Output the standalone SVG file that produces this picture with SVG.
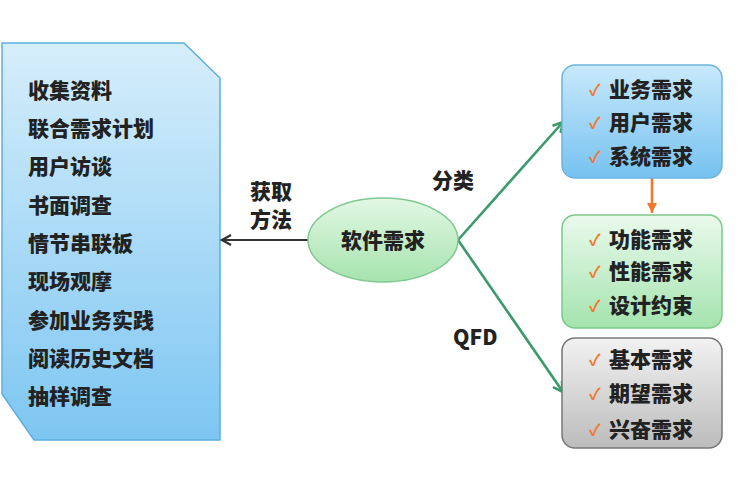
<svg xmlns="http://www.w3.org/2000/svg" width="746" height="484" viewBox="0 0 746 484">
<defs>
<linearGradient id="gBlue" x1="0" y1="0" x2="0" y2="1"><stop offset="0" stop-color="#d6eefb"/><stop offset="1" stop-color="#7dc6f2"/></linearGradient>
<linearGradient id="gBlue2" x1="0" y1="0" x2="0" y2="1"><stop offset="0" stop-color="#c9e9fb"/><stop offset="1" stop-color="#76c2f1"/></linearGradient>
<linearGradient id="gGreen" x1="0" y1="0" x2="0" y2="1"><stop offset="0" stop-color="#eafaec"/><stop offset="1" stop-color="#a4e3ae"/></linearGradient>
<linearGradient id="gEll" x1="0" y1="0" x2="0" y2="1"><stop offset="0" stop-color="#e2f8e4"/><stop offset="1" stop-color="#a6e3ae"/></linearGradient>
<linearGradient id="gGrey" x1="0" y1="0" x2="0" y2="1"><stop offset="0" stop-color="#f2f2f2"/><stop offset="1" stop-color="#bcbcbc"/></linearGradient>
<marker id="mDark" viewBox="0 0 12 12" refX="10" refY="6" markerWidth="12" markerHeight="12" markerUnits="userSpaceOnUse" orient="auto"><path d="M1,1 L10,6 L1,11" fill="none" stroke="#333" stroke-width="2.2"/></marker>
<marker id="mGreen" viewBox="0 0 12 12" refX="10" refY="6" markerWidth="13" markerHeight="13" markerUnits="userSpaceOnUse" orient="auto"><path d="M1,1 L10,6 L1,11" fill="none" stroke="#3a9a6c" stroke-width="2.4"/></marker>
<marker id="mOrange" viewBox="0 0 12 12" refX="10" refY="6" markerWidth="12" markerHeight="12" markerUnits="userSpaceOnUse" orient="auto"><path d="M0,1 L10,6 L0,11 Z" fill="#f07828"/></marker>
</defs>
<style>
text{font-family:"Noto Sans CJK SC","Noto Sans",sans-serif;font-weight:900;fill:#222;}
.t{font-size:21px;}
.ck{font-size:16px;fill:#f07828;font-weight:bold;}
</style>
<rect width="746" height="484" fill="#ffffff"/>
<g id="panel">
<path d="M2,43 L184,43 L220,78 L220,440 L34,440 L2,394 Z" fill="url(#gBlue)" stroke="#5eaedb" stroke-width="1.5"/>
<text class="t" x="28" y="98">收集资料</text>
<text class="t" x="28" y="136">联合需求计划</text>
<text class="t" x="28" y="174">用户访谈</text>
<text class="t" x="28" y="213">书面调查</text>
<text class="t" x="28" y="251">情节串联板</text>
<text class="t" x="28" y="289">现场观摩</text>
<text class="t" x="28" y="328">参加业务实践</text>
<text class="t" x="28" y="366">阅读历史文档</text>
<text class="t" x="28" y="404">抽样调查</text>
</g>
<g id="connectors">
<line x1="308" y1="240" x2="222" y2="240" stroke="#333" stroke-width="2.2" marker-end="url(#mDark)"/>
<line x1="458" y1="240" x2="563" y2="122" stroke="#3a9a6c" stroke-width="2.6" marker-end="url(#mGreen)"/>
<line x1="458" y1="240" x2="563" y2="392" stroke="#3a9a6c" stroke-width="2.6" marker-end="url(#mGreen)"/>
<line x1="652" y1="178" x2="652" y2="213" stroke="#f07828" stroke-width="2.6" marker-end="url(#mOrange)"/>
<text class="t" x="250" y="199">获取</text>
<text class="t" x="250" y="227">方法</text>
<text class="t" x="432" y="188">分类</text>
<text class="t" x="453" y="345">QFD</text>
</g>
<g id="core">
<ellipse cx="383" cy="240" rx="75" ry="42" fill="url(#gEll)" stroke="#82c890" stroke-width="1.5"/>
<text class="t" x="383" y="248" text-anchor="middle">软件需求</text>
</g>
<g id="box1">
<rect x="562" y="65" width="160" height="113" rx="13" fill="url(#gBlue2)" stroke="#6db5de" stroke-width="1.5"/>
<text class="ck" x="589" y="96">✓</text><text class="t" x="609" y="97">业务需求</text>
<text class="ck" x="589" y="129">✓</text><text class="t" x="609" y="130">用户需求</text>
<text class="ck" x="589" y="163">✓</text><text class="t" x="609" y="164">系统需求</text>
</g>
<g id="box2">
<rect x="562" y="215" width="160" height="113" rx="13" fill="url(#gGreen)" stroke="#7cc98a" stroke-width="1.5"/>
<text class="ck" x="589" y="246">✓</text><text class="t" x="609" y="247">功能需求</text>
<text class="ck" x="589" y="278">✓</text><text class="t" x="609" y="279">性能需求</text>
<text class="ck" x="589" y="312">✓</text><text class="t" x="609" y="313">设计约束</text>
</g>
<g id="box3">
<rect x="562" y="338" width="160" height="110" rx="13" fill="url(#gGrey)" stroke="#777" stroke-width="1.5"/>
<text class="ck" x="589" y="366">✓</text><text class="t" x="609" y="367">基本需求</text>
<text class="ck" x="589" y="400">✓</text><text class="t" x="609" y="401">期望需求</text>
<text class="ck" x="589" y="436">✓</text><text class="t" x="609" y="437">兴奋需求</text>
</g>
</svg>
